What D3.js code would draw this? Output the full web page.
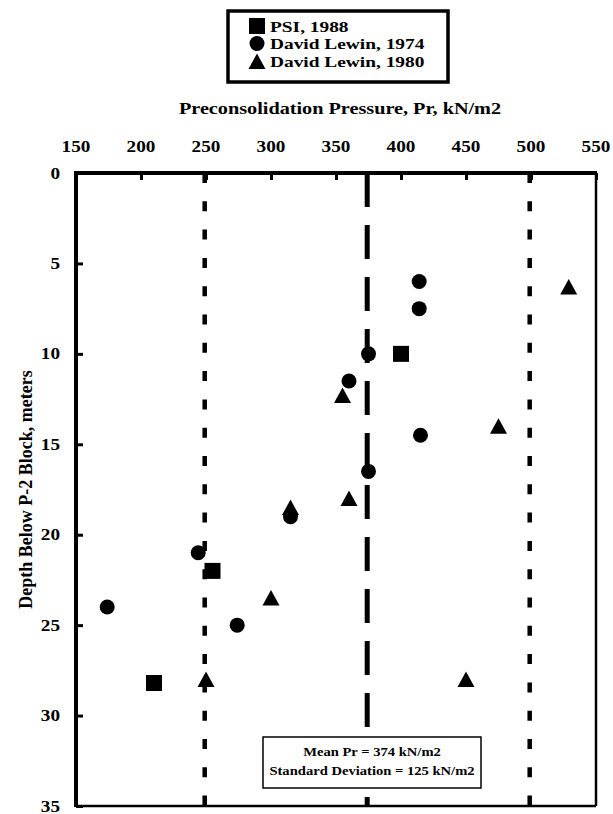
<!DOCTYPE html>
<html>
<head>
<meta charset="utf-8">
<script src="https://cdn.jsdelivr.net/npm/d3@7"></script>
<style>
  html, body { margin: 0; padding: 0; background: #fff; }
  svg { display: block; }
  text { font-family: "Liberation Serif", "Times New Roman", serif; font-weight: bold; fill: #000; }
</style>
</head>
<body>
<svg id="chart" width="613" height="814"></svg>
<script>
// ---- Data ----
const xTicks = [150, 200, 250, 300, 350, 400, 450, 500, 550];
const yTicks = [0, 5, 10, 15, 20, 25, 30, 35];

const psi1988 = [
  { pr: 400, depth: 10 },
  { pr: 255, depth: 22 },
  { pr: 210, depth: 28.2 }
];
const lewin1974 = [
  { pr: 414, depth: 6 },
  { pr: 414, depth: 7.5 },
  { pr: 375, depth: 10 },
  { pr: 360, depth: 11.5 },
  { pr: 415, depth: 14.5 },
  { pr: 375, depth: 16.5 },
  { pr: 315, depth: 19 },
  { pr: 244, depth: 21 },
  { pr: 174, depth: 24 },
  { pr: 274, depth: 25 }
];
const lewin1980 = [
  { pr: 529, depth: 6.3 },
  { pr: 355, depth: 12.3 },
  { pr: 475, depth: 14 },
  { pr: 360, depth: 18 },
  { pr: 315, depth: 18.5 },
  { pr: 300, depth: 23.5 },
  { pr: 250, depth: 28 },
  { pr: 450, depth: 28 }
];
const meanPr = 374;
const stdDev = 125;
const boundLines = [meanPr - stdDev, meanPr + stdDev];

const legendLabels = ["PSI, 1988", "David Lewin, 1974", "David Lewin, 1980"];
const xTitle = "Preconsolidation Pressure, Pr, kN/m2";
const yTitle = "Depth Below P-2 Block, meters";
const noteLines = ["Mean Pr = " + meanPr + " kN/m2", "Standard Deviation = " + stdDev + " kN/m2"];

// ---- Layout ----
const svg = d3.select("#chart");
const x = d3.scaleLinear().domain([150, 550]).range([76, 596]);
const y = d3.scaleLinear().domain([0, 35]).range([173, 806]);

function stretchText(sel, tx, ty, sx, str, size, anchor) {
  return sel.append("text")
    .attr("transform", `translate(${tx},${ty}) scale(${sx},1)`)
    .attr("text-anchor", anchor || "middle")
    .style("font-size", size + "px")
    .text(str);
}

// reference lines
const refG = svg.append("g");
refG.selectAll("line.bound").data(boundLines).enter().append("line")
  .attr("x1", d => x(d)).attr("x2", d => x(d))
  .attr("y1", y(0)).attr("y2", y(35))
  .attr("stroke", "#000").attr("stroke-width", 4.5)
  .attr("stroke-dasharray", "10 18.3");
refG.append("line")
  .attr("x1", x(meanPr)).attr("x2", x(meanPr))
  .attr("y1", y(0)).attr("y2", y(35))
  .attr("stroke", "#000").attr("stroke-width", 5)
  .attr("stroke-dasharray", "34 18");

// frame
const [x0, x1] = x.range();
const [y0, y1] = y.range();
svg.append("line").attr("x1", x1).attr("x2", x1).attr("y1", y0).attr("y2", y1)
  .attr("stroke", "#000").attr("stroke-width", 2.5);
svg.append("line").attr("x1", x0).attr("x2", x1).attr("y1", y1).attr("y2", y1)
  .attr("stroke", "#000").attr("stroke-width", 2.5);

// top axis
const topAxis = d3.axisTop(x).tickValues(xTicks).tickSize(-7).tickPadding(0).tickFormat("");
const tg = svg.append("g").attr("transform", `translate(0,${y0})`).call(topAxis);
tg.select(".domain").attr("stroke-width", 4).attr("d", `M${x0 - 2},0H${x1 + 1}`);
tg.selectAll(".tick line").attr("stroke-width", 3);
xTicks.forEach(v => stretchText(svg, x(v), 152, 1.2, String(v), 16, "middle"));

// left axis
const leftAxis = d3.axisLeft(y).tickValues(yTicks).tickSize(-7).tickFormat("");
const lg = svg.append("g").attr("transform", `translate(${x0},0)`).call(leftAxis);
lg.select(".domain").attr("stroke-width", 4).attr("d", `M0,${y0 - 2}V${y1 + 1}`);
lg.selectAll(".tick line").attr("stroke-width", 3);
yTicks.forEach(v => stretchText(svg, 60, y(v) + 5.5, 1.2, String(v), 16, "end"));

// titles
stretchText(svg, 340, 114, 1.19, xTitle, 17, "middle");
svg.append("text")
  .attr("transform", `translate(32,${(y0 + y1) / 2}) rotate(-90)`)
  .attr("text-anchor", "middle")
  .style("font-size", "18px")
  .text(yTitle);

// markers
const mg = svg.append("g");
function square(g, data) {
  g.selectAll(null).data(data).enter().append("rect")
    .attr("x", d => x(d.pr) - 8).attr("y", d => y(d.depth) - 8)
    .attr("width", 16).attr("height", 16).attr("fill", "#000");
}
function circle(g, data) {
  g.selectAll(null).data(data).enter().append("circle")
    .attr("cx", d => x(d.pr)).attr("cy", d => y(d.depth)).attr("r", 7.5).attr("fill", "#000");
}
function triangle(g, data) {
  g.selectAll(null).data(data).enter().append("path")
    .attr("d", d => {
      const cx = x(d.pr), cy = y(d.depth);
      return `M${cx},${cy - 8}L${cx + 8.5},${cy + 7.5}L${cx - 8.5},${cy + 7.5}Z`;
    })
    .attr("fill", "#000");
}
square(mg, psi1988);
circle(mg, lewin1974);
triangle(mg, lewin1980);

// legend
const leg = svg.append("g");
leg.append("rect").attr("x", 228).attr("y", 11).attr("width", 220).attr("height", 71)
  .attr("fill", "#fff").attr("stroke", "#000").attr("stroke-width", 3.5);
const legRows = [26, 43.5, 61.5];
const lmx = 257;
leg.append("rect").attr("x", lmx - 8).attr("y", legRows[0] - 8).attr("width", 16).attr("height", 16).attr("fill", "#000");
leg.append("circle").attr("cx", lmx).attr("cy", legRows[1]).attr("r", 7.5).attr("fill", "#000");
leg.append("path").attr("d", `M${lmx},${legRows[2] - 8}L${lmx + 8.5},${legRows[2] + 7.5}L${lmx - 8.5},${legRows[2] + 7.5}Z`).attr("fill", "#000");
legendLabels.forEach((t, i) => stretchText(leg, 270, legRows[i] + 5.5, 1.25, t, 15.5, "start"));

// annotation box
const note = svg.append("g");
note.append("rect").attr("x", 263).attr("y", 737).attr("width", 218).attr("height", 51)
  .attr("fill", "#fff").attr("stroke", "#000").attr("stroke-width", 1.5);
noteLines.forEach((t, i) => stretchText(note, 372, 756 + i * 19, 1.27, t, 11.5, "middle"));
</script>
</body>
</html>
